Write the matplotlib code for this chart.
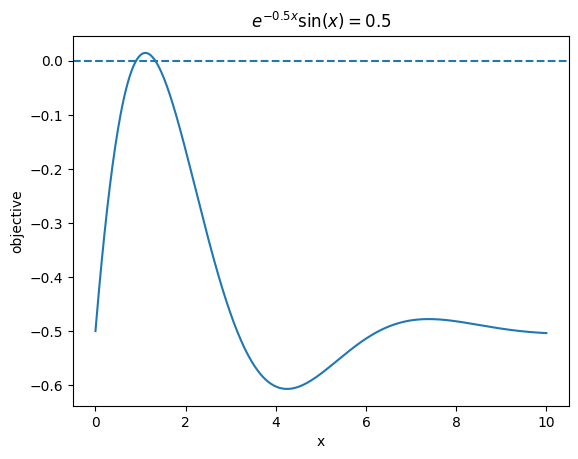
import numpy as np
import matplotlib
matplotlib.use("Agg")
import matplotlib.pyplot as plt

# Curve from the title equation: objective(x) = e^{-0.5x} sin(x) - 0.5
x_start, x_stop, n_points = 0.0, 10.0, 500
decay_rate = 0.5
target = 0.5

x = np.linspace(x_start, x_stop, n_points)
objective = np.exp(-decay_rate * x) * np.sin(x) - target

fig, ax = plt.subplots(figsize=(6.4, 4.8), dpi=100)
ax.plot(x, objective)
ax.axhline(0, linestyle='--')
ax.set_xlabel('x')
ax.set_ylabel('objective')
ax.set_title(r'$e^{-0.5x}\sin(x) = 0.5$')
fig.savefig('out.png', bbox_inches='tight')
